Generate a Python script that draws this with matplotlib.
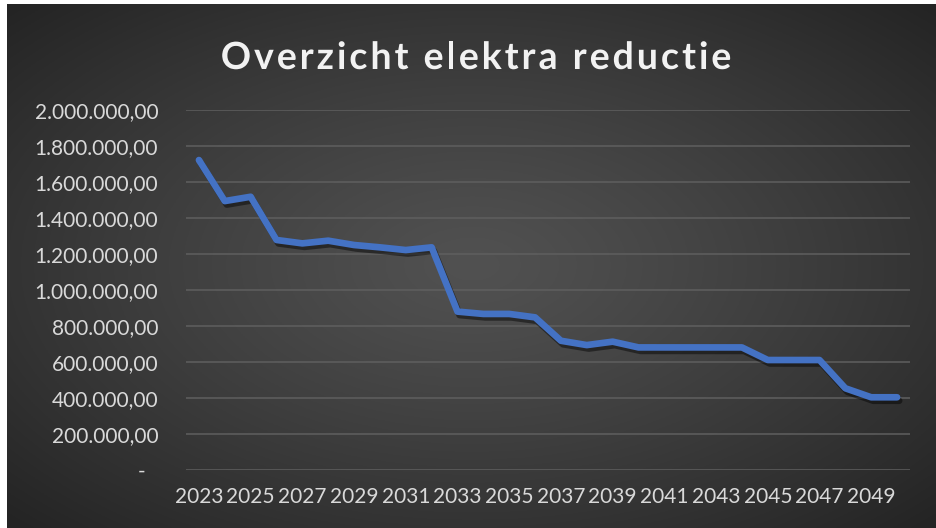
import numpy as np
import matplotlib
matplotlib.use("Agg")
import matplotlib.pyplot as plt
import matplotlib.patheffects as pe
from matplotlib.ticker import FuncFormatter, MultipleLocator
from matplotlib.font_manager import FontProperties

years = list(range(2023, 2051))
values = [1722000, 1494000, 1518000, 1278000, 1259000, 1274000, 1250000,
          1237000, 1222000, 1237000, 880000, 867000, 867000, 848000,
          718000, 694000, 713000, 681000, 681000, 681000, 681000, 681000,
          611000, 611000, 611000, 454000, 404000, 404000]
title = "Overzicht elektra reductie"

plt.rcParams['font.family'] = ['Lato', 'DejaVu Sans']

W, H = 936, 528
fig = plt.figure(figsize=(W / 100, H / 100), dpi=100, facecolor='white')

# background with radial gradient
bg = fig.add_axes([7 / W, 0, 1 - 7 / W, (H - 4) / H])
bg.set_axis_off()
ny, nx = 300, 500
yy, xx = np.mgrid[0:ny, 0:nx]
cx, cy = nx * 0.5, ny * 0.5
d = np.sqrt(((xx - cx) / (nx * 0.62)) ** 2 + ((yy - cy) / (ny * 0.62)) ** 2)
d = np.clip(d / 1.13, 0, 1)
c0, c1 = 0x51 / 255, 0x24 / 255
img = c0 + (c1 - c0) * d ** 1.2
bg.imshow(np.dstack([img, img, img]), aspect='auto', extent=[0, 1, 0, 1], origin='lower')
bg.set_xlim(0, 1)
bg.set_ylim(0, 1)

ax = fig.add_axes([186 / W, 58 / H, 724 / W, 360 / H])
ax.patch.set_alpha(0)
x = np.arange(len(years))
ax.plot(x, values, color='#4472C4', lw=4.8, solid_joinstyle='round', solid_capstyle='round',
        path_effects=[pe.SimpleLineShadow(offset=(1.5, -2.5), shadow_color='black', alpha=0.45),
                      pe.Normal()], zorder=3)
ax.set_xlim(-0.5, len(years) - 0.5)
ax.set_ylim(0, 2000000)
ax.yaxis.set_major_locator(MultipleLocator(200000))


def fmt(v, pos):
    if abs(v) < 1:
        return "-\u2007"
    s = f"{v:,.2f}"
    return s.replace(",", "X").replace(".", ",").replace("X", ".")


ax.yaxis.set_major_formatter(FuncFormatter(fmt))
ax.set_xticks(x[::2])
ax.set_xticklabels([str(y) for y in years[::2]])
ax.grid(axis='y', color='#5f5f5f', lw=1.1, zorder=0)
ax.grid(axis='x', visible=False)
for s in ax.spines.values():
    s.set_visible(False)
ax.tick_params(axis='both', length=0, colors='#d9d9d9', labelsize=15)
ax.tick_params(axis='y', pad=20)
ax.tick_params(axis='x', pad=12)

# title with letter spacing
fig.canvas.draw()
renderer = fig.canvas.get_renderer()
fp = FontProperties(family=['Lato', 'DejaVu Sans'], weight='bold', size=27)
spacing = 3.0


def width(s):
    w, h, dsc = renderer.get_text_width_height_descent(s, fp, ismath=False)
    return w


positions = []
for i, ch in enumerate(title):
    if ch == ' ':
        continue
    left = width(title[:i + 1]) - width(ch) + i * spacing
    positions.append((ch, left))
total = positions[-1][1] + width(positions[-1][0])
x0 = 476 - total / 2
for ch, left in positions:
    fig.text((x0 + left) / W, 1 - 55 / H, ch, fontproperties=fp, color='#f2f2f2',
             ha='left', va='center_baseline',
             path_effects=[pe.SimpleLineShadow(offset=(1, -1.5)), pe.Normal()])

fig.savefig('out.png', dpi=100, facecolor='white')
